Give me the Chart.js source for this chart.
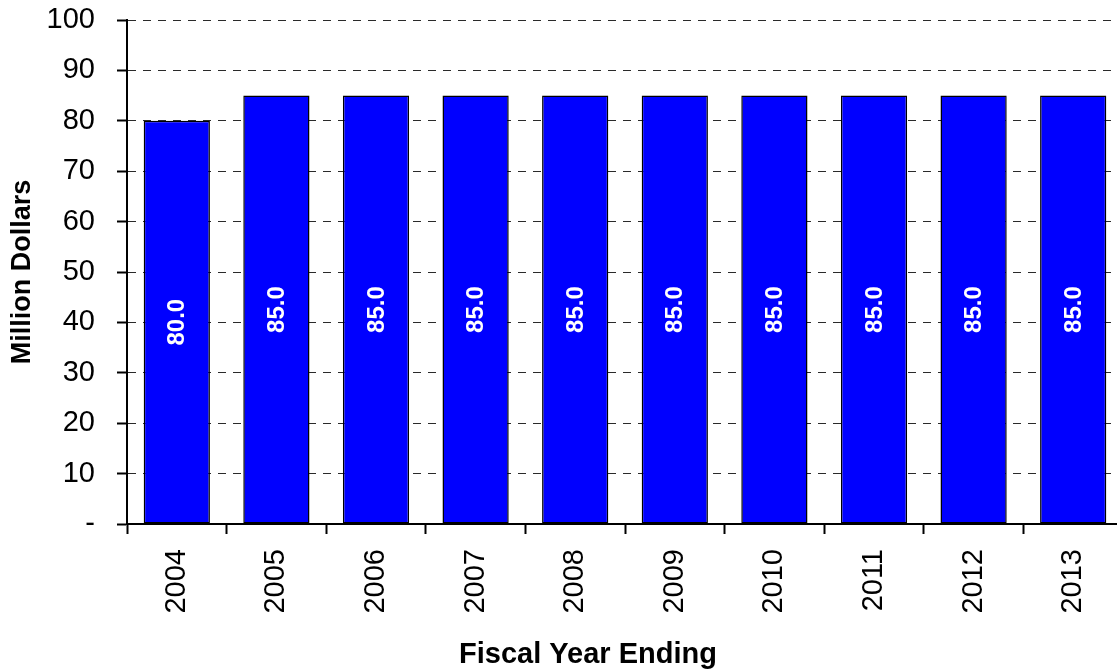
<!DOCTYPE html>
<html>
<head>
<meta charset="utf-8">
<title>Fiscal Year Ending</title>
<script src="https://cdn.jsdelivr.net/npm/chart.js@4/dist/chart.umd.min.js"></script>
<style>
  html, body { margin: 0; padding: 0; background: #fff; overflow: hidden; }
  #wrap { position: relative; width: 1123px; height: 671px; }
</style>
</head>
<body>
<div id="wrap"><canvas id="chart" width="1123" height="671"></canvas></div>
<script>
// fiscal years and amounts (million dollars)
const years = ['2004', '2005', '2006', '2007', '2008', '2009', '2010', '2011', '2012', '2013'];
const amounts = [80.0, 85.0, 85.0, 85.0, 85.0, 85.0, 85.0, 85.0, 85.0, 85.0];
const yTicks = [0, 10, 20, 30, 40, 50, 60, 70, 80, 90, 100];

const FONT = "'Liberation Sans', Arial, sans-serif";

// white rotated value inside each bar
const barValues = {
  id: 'barValues',
  afterDatasetsDraw(chart) {
    const ctx = chart.ctx;
    const meta = chart.getDatasetMeta(0);
    ctx.save();
    ctx.fillStyle = '#fff';
    ctx.font = 'bold 24px ' + FONT;
    ctx.textAlign = 'center';
    ctx.textBaseline = 'middle';
    meta.data.forEach((bar, i) => {
      const cy = (bar.y + bar.base) / 2;
      ctx.save();
      ctx.translate(bar.x, cy);
      ctx.rotate(-Math.PI / 2);
      ctx.fillText(amounts[i].toFixed(1), 0, 1);
      ctx.restore();
    });
    ctx.restore();
  }
};

// x axis title sits off-centre from the plot, so draw it here
const xTitle = {
  id: 'xTitle',
  afterDraw(chart) {
    const ctx = chart.ctx;
    ctx.save();
    ctx.fillStyle = '#000';
    ctx.font = 'bold 29px ' + FONT;
    ctx.textAlign = 'center';
    ctx.textBaseline = 'alphabetic';
    ctx.fillText('Fiscal Year Ending', 588, 663);
    ctx.restore();
  }
};

new Chart(document.getElementById('chart').getContext('2d'), {
  type: 'bar',
  data: {
    labels: years,
    datasets: [{
      data: amounts,
      backgroundColor: '#0000ff',
      borderColor: '#000',
      borderWidth: 1.5,
      borderSkipped: false,
      categoryPercentage: 1,
      barPercentage: 0.665
    }]
  },
  options: {
    responsive: false,
    animation: false,
    layout: { padding: { top: 20, right: 0, bottom: 0, left: 0 } },
    plugins: { legend: { display: false }, tooltip: { enabled: false } },
    scales: {
      x: {
        afterFit(s) {
          s.height = 147;
          s.paddingLeft = 0; s.paddingRight = 0; s.paddingTop = 0; s.paddingBottom = 0;
        },
        grid: {
          offset: true,
          drawOnChartArea: false,
          drawTicks: true,
          tickLength: 10,
          tickColor: '#000',
          tickWidth: 2
        },
        border: { display: true, color: '#000', width: 2 },
        ticks: {
          color: '#000',
          font: { family: FONT, size: 29 },
          minRotation: 90,
          maxRotation: 90,
          padding: 15,
          autoSkip: false
        }
      },
      y: {
        min: 0,
        max: 100,
        afterFit(s) {
          s.width = 127;
          s.paddingLeft = 0; s.paddingRight = 0; s.paddingTop = 0; s.paddingBottom = 0;
        },
        afterBuildTicks(s) { s.ticks = yTicks.map(v => ({ value: v })); },
        grid: {
          color: '#2a2a2a',
          lineWidth: 1,
          drawTicks: true,
          tickLength: 10,
          tickColor: '#000',
          tickWidth: 2,
          tickBorderDash: []
        },
        border: { display: true, color: '#000', width: 2, dash: [8, 7] },
        ticks: {
          color: '#000',
          font: { family: FONT, size: 29 },
          padding: 22,
          callback: v => v === 0 ? '-' : v
        },
        title: {
          display: true,
          text: 'Million Dollars',
          color: '#000',
          font: { family: FONT, size: 27, weight: 'bold' },
          padding: { top: 6, bottom: 0 }
        }
      }
    }
  },
  plugins: [barValues, xTitle]
});
</script>
</body>
</html>
